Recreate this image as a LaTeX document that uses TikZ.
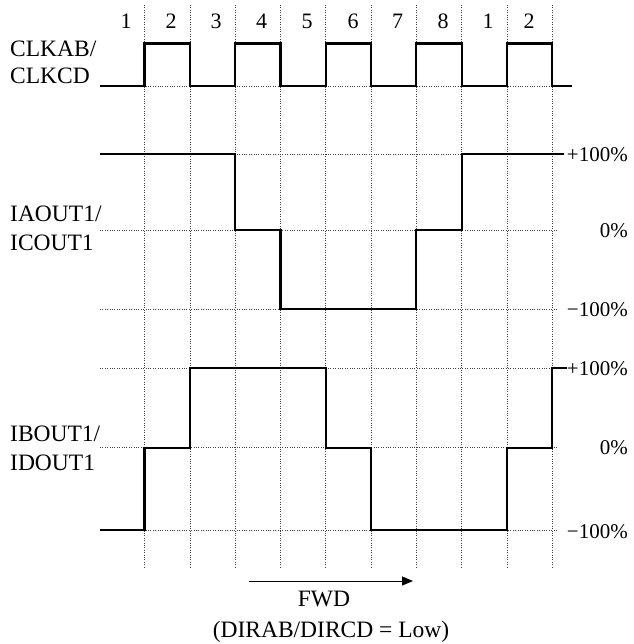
\documentclass[tikz,border=0pt]{standalone}
\usepackage{fontspec}
\setmainfont{Liberation Serif}
\usetikzlibrary{arrows.meta}
\begin{document}
\begin{tikzpicture}[x=1pt,y=-1pt,
  grid/.style={line width=0.6pt, black!75, dash pattern=on 0.8pt off 1.6pt},
  wave/.style={line width=2.2pt, line join=miter, line cap=butt},
  lbl/.style={inner sep=0pt, font=\fontsize{23.5}{27}\selectfont},
  num/.style={inner sep=0pt, anchor=base, font=\fontsize{22}{26}\selectfont},
  pct/.style={inner sep=0pt, anchor=east, font=\fontsize{21}{25}\selectfont}]
\useasboundingbox (0,0) rectangle (633,644);
% vertical grid lines
\foreach \i in {0,...,9} {
  \draw[grid] ({144.5+45.3*\i},5) -- ({144.5+45.3*\i},567);
}
% horizontal grid lines
\draw[grid] (100,86) -- (552,86);
\foreach \y in {154.3,230,309,368.3,447.7,530} {
  \draw[grid] (100,\y) -- (558,\y);
}
% phase numbers
\foreach \x/\t in {126/1,171/2,216/3,261.7/4,307/5,353/6,397.7/7,443/8,488/1,529/2} {
  \node[num] (n\x) at (\x,29) {\t};
}
% clock
\draw[wave] (100,86) -- (144.5,86) -- (144.5,43.5) -- (189.8,43.5) -- (189.8,86)
  -- (235.1,86) -- (235.1,43.5) -- (280.4,43.5) -- (280.4,86)
  -- (325.7,86) -- (325.7,43.5) -- (371,43.5) -- (371,86)
  -- (416.3,86) -- (416.3,43.5) -- (461.6,43.5) -- (461.6,86)
  -- (506.9,86) -- (506.9,43.5) -- (552.2,43.5) -- (552.2,86) -- (572,86);
% IA
\draw[wave] (100,154.3) -- (235.1,154.3) -- (235.1,230) -- (280.4,230) -- (280.4,309)
  -- (416.3,309) -- (416.3,230) -- (461.6,230) -- (461.6,154.3) -- (564,154.3);
% IB
\draw[wave] (100,530) -- (144.5,530) -- (144.5,447.7) -- (189.8,447.7) -- (189.8,368.3)
  -- (325.7,368.3) -- (325.7,447.7) -- (371,447.7) -- (371,530)
  -- (506.9,530) -- (506.9,447.7) -- (552.2,447.7) -- (552.2,368.3) -- (566.5,368.3);
% left labels
\node[lbl, anchor=base west] (clk1) at (10,56.5) {CLKAB/};
\node[lbl, anchor=base west] (clk2) at (10,84) {CLKCD};
\node[lbl, anchor=base west] (ia1) at (10,221.7) {IAOUT1/};
\node[lbl, anchor=base west] (ia2) at (10,250) {ICOUT1};
\node[lbl, anchor=base west] (ib1) at (10,441.7) {IBOUT1/};
\node[lbl, anchor=base west] (ib2) at (10,470) {IDOUT1};
% right labels
\node[pct] (pa1) at (628,155) {+100\%};
\node[pct] (pa2) at (628,230.5) {0\%};
\node[pct] (pa3) at (628,309.5) {−100\%};
\node[pct] (pb1) at (628,369) {+100\%};
\node[pct] (pb2) at (628,448) {0\%};
\node[pct] (pb3) at (628,532) {−100\%};
% direction arrow
\coordinate (as) at (249,581);
\coordinate (ae) at (413,581);
\draw[line width=1pt, -{Triangle[length=11pt,width=9pt]}] (as) -- (ae);
\node[lbl, anchor=base] (fwd) at (324,606.5) {FWD};
\node[lbl, anchor=base] (dir) at (331,637) {(DIRAB/DIRCD = Low)};
\end{tikzpicture}
\end{document}
